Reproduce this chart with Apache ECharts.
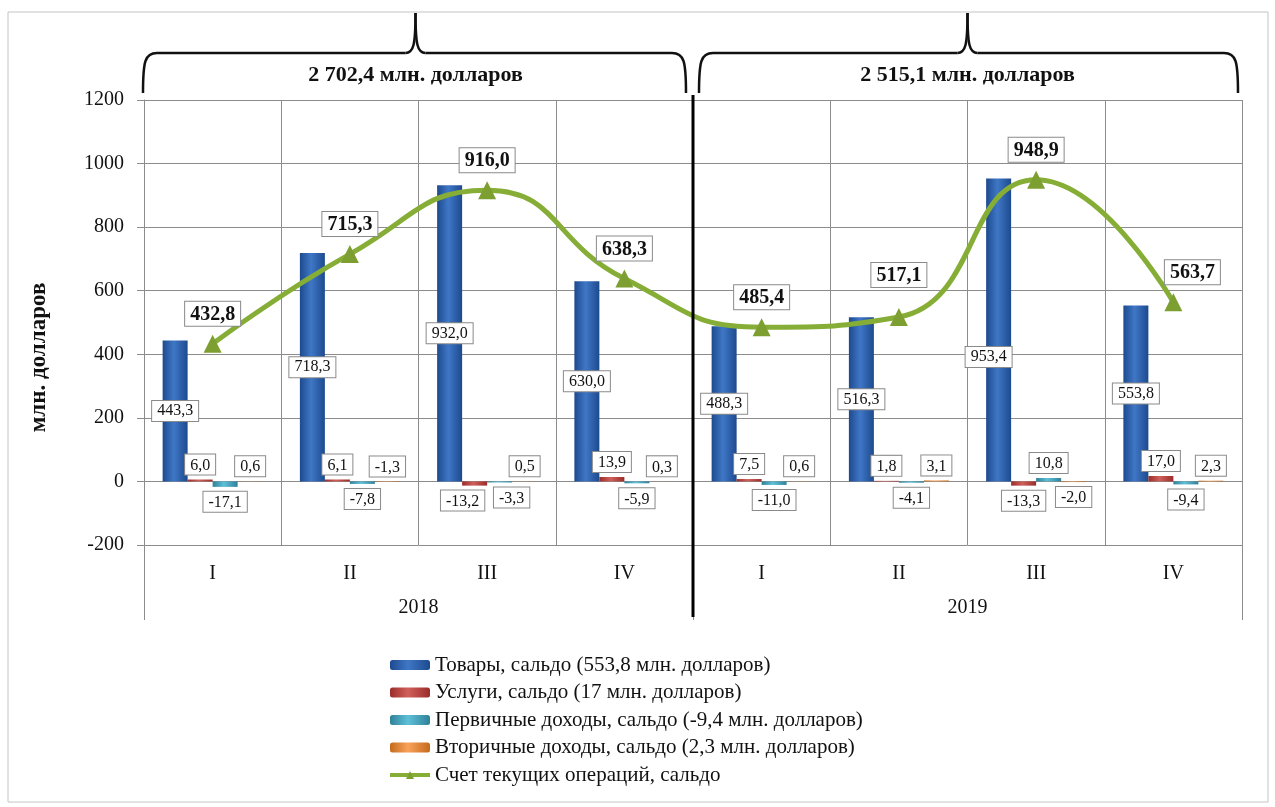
<!DOCTYPE html>
<html>
<head>
<meta charset="utf-8">
<script src="https://cdn.jsdelivr.net/npm/echarts@6/dist/echarts.min.js"></script>
<style>
  html, body { margin: 0; padding: 0; background: #fff; }
  #chart { width: 1275px; height: 807px; }
</style>
</head>
<body>
<div id="chart"></div>
<script>
'use strict';

// данные по кварталам 2018–2019
const quarters = ['I', 'II', 'III', 'IV', 'I', 'II', 'III', 'IV'];
const years = ['2018', '2019'];
const goods = [443.3, 718.3, 932.0, 630.0, 488.3, 516.3, 953.4, 553.8];
const services = [6.0, 6.1, -13.2, 13.9, 7.5, 1.8, -13.3, 17.0];
const primaryIncome = [-17.1, -7.8, -3.3, -5.9, -11.0, -4.1, 10.8, -9.4];
const secondaryIncome = [0.6, -1.3, 0.5, 0.3, 0.6, 3.1, -2.0, 2.3];
const currentAccount = [432.8, 715.3, 916.0, 638.3, 485.4, 517.1, 948.9, 563.7];
const yearTotals = ['2 702,4 млн. долларов', '2 515,1 млн. долларов'];
const seriesNames = [
  'Товары, сальдо (553,8 млн. долларов)',
  'Услуги, сальдо (17 млн. долларов)',
  'Первичные доходы, сальдо (-9,4 млн. долларов)',
  'Вторичные доходы, сальдо (2,3 млн. долларов)',
  'Счет текущих операций, сальдо'
];

const SERIF = '"Liberation Serif", "DejaVu Serif", serif';
const fmt = (v) => Number(v).toFixed(1).replace('.', ',');

function grad(dark, light) {
  return new echarts.graphic.LinearGradient(0, 0, 1, 0, [
    { offset: 0, color: dark },
    { offset: 0.45, color: light },
    { offset: 1, color: dark }
  ]);
}

const boxLabel = {
  show: true,
  fontFamily: SERIF,
  fontSize: 16,
  color: '#111',
  backgroundColor: '#fff',
  borderColor: '#8a8a8a',
  borderWidth: 1,
  padding: [3, 5, 1, 5],
  formatter: (p) => fmt(p.value)
};

// ручные поправки подписей, чтобы не налезали друг на друга
const labelTweaks = {
  goods: { 6: { offset: [-10, 27] } },
  services: { 2: { offset: [-12, 0] } },
  primary: { 2: { offset: [12, 0] } },
  secondary: { 1: { position: 'top' } },
  account: { 5: { offset: [0, -12] }, 7: { offset: [19, 0] } }
};

function withTweaks(values, key) {
  const tweaks = labelTweaks[key] || {};
  return values.map((v, i) => tweaks[i] ? { value: v, label: tweaks[i] } : v);
}

function barSeries(name, values, color, position, key) {
  return {
    name, type: 'bar',
    barWidth: 25, barGap: '0%',
    itemStyle: { color },
    label: Object.assign({}, boxLabel, { position, distance: 5 }),
    data: withTweaks(values, key)
  };
}

const chart = echarts.init(document.getElementById('chart'), null, { renderer: 'canvas' });

chart.setOption({
  animation: false,
  backgroundColor: '#fff',
  grid: { left: 144, right: 33, top: 100, bottom: 262 },
  legend: {
    orient: 'vertical', left: 383, top: 649,
    itemWidth: 40, itemHeight: 10, itemGap: 5.5,
    lineStyle: { width: 4 },
    textStyle: { fontFamily: SERIF, fontSize: 21, color: '#111', lineHeight: 22 },
    data: seriesNames
  },
  xAxis: [{
    type: 'category', data: quarters,
    axisLine: { show: false },
    axisTick: { show: true, length: 40, interval: 0, lineStyle: { color: '#8c8c8c' } },
    axisLabel: { margin: 19, fontFamily: SERIF, fontSize: 20, color: '#111' },
    splitLine: { show: true, interval: 0, lineStyle: { color: '#8c8c8c' } }
  }, {
    type: 'category', data: years, position: 'bottom',
    axisLine: { show: false },
    axisTick: { show: true, length: 75, interval: 0, lineStyle: { color: '#8c8c8c' } },
    axisLabel: { margin: 53, fontFamily: SERIF, fontSize: 20, color: '#111' }
  }],
  yAxis: {
    type: 'value', min: -200, max: 1200, interval: 200,
    name: 'млн. долларов', nameLocation: 'middle', nameGap: 93, nameRotate: 90,
    nameTextStyle: { fontFamily: SERIF, fontSize: 23, fontWeight: 'bold', color: '#111', padding: [0, 70, 0, 0] },
    axisLine: { show: true, lineStyle: { color: '#8c8c8c' } },
    axisTick: { show: true, length: 7, lineStyle: { color: '#8c8c8c' } },
    axisLabel: { margin: 20, fontFamily: SERIF, fontSize: 20, color: '#111', formatter: (v) => String(v) },
    splitLine: { lineStyle: { color: '#8c8c8c' } }
  },
  series: [
    barSeries(seriesNames[0], goods, grad('#1d4a8e', '#3f77c6'), 'inside', 'goods'),
    barSeries(seriesNames[1], services, grad('#9a2c29', '#d0605c'), 'outside', 'services'),
    barSeries(seriesNames[2], primaryIncome, grad('#2f8199', '#5ec0d8'), 'outside', 'primary'),
    barSeries(seriesNames[3], secondaryIncome, grad('#c46a1c', '#f9a25a'), 'outside', 'secondary'),
    {
      name: seriesNames[4], type: 'line', z: 5,
      smooth: 0.5,
      symbol: 'triangle', symbolSize: 18,
      lineStyle: { color: '#86ad36', width: 5 },
      itemStyle: { color: '#7d9f31' },
      label: Object.assign({}, boxLabel, {
        position: 'top', distance: 9,
        fontSize: 20, fontWeight: 'bold', padding: [3, 5, 1, 5]
      }),
      data: withTweaks(currentAccount, 'account')
    }
  ]
});

// фигурные скобки с итогами по годам и разделитель лет
function boundary(i) {
  const a = chart.convertToPixel({ xAxisIndex: 0 }, 0);
  const b = chart.convertToPixel({ xAxisIndex: 0 }, 1);
  return a - (b - a) / 2 + i * (b - a);
}

const braceStyle = { fill: 'none', stroke: '#111', lineWidth: 2.5 };

function brace(x0, x1, cx) {
  const yb = 93, yh = 53, yt = 13;
  const curve = (s) => ({ type: 'bezierCurve', silent: true, z: 100, shape: s, style: braceStyle });
  const line = (a, b) => ({ type: 'line', silent: true, z: 100, shape: { x1: a, y1: yh, x2: b, y2: yh }, style: braceStyle });
  return [
    curve({ x1: x0, y1: yb, cpx1: x0, cpy1: yh + 8, cpx2: x0 + 2, cpy2: yh, x2: x0 + 14, y2: yh }),
    line(x0 + 14, cx - 10),
    curve({ x1: cx - 10, y1: yh, cpx1: cx - 2, cpy1: yh, cpx2: cx, cpy2: yh - 8, x2: cx, y2: yt }),
    curve({ x1: cx + 10, y1: yh, cpx1: cx + 2, cpy1: yh, cpx2: cx, cpy2: yh - 8, x2: cx, y2: yt }),
    line(cx + 10, x1 - 14),
    curve({ x1: x1, y1: yb, cpx1: x1, cpy1: yh + 8, cpx2: x1 - 2, cpy2: yh, x2: x1 - 14, y2: yh })
  ];
}

const bMid = boundary(4);
const graphics = [
  { type: 'rect', silent: true, z: -10, shape: { x: 8, y: 12, width: 1260, height: 790 },
    style: { fill: 'none', stroke: '#c4c4c4', lineWidth: 1 } },
  { type: 'line', silent: true, z: 100, shape: { x1: bMid, y1: 95, x2: bMid, y2: 617 },
    style: { stroke: '#000', lineWidth: 3 } }
];
[[boundary(0) - 1, bMid - 7, boundary(2) - 3], [bMid + 6, boundary(8) - 4, boundary(6)]].forEach((b, i) => {
  brace(b[0], b[1], b[2]).forEach((g) => graphics.push(g));
  graphics.push({ type: 'text', silent: true, z: 100, x: b[2], y: 75,
    style: { text: yearTotals[i], font: 'bold 22px ' + SERIF, fill: '#111', align: 'center', verticalAlign: 'middle' } });
});
chart.setOption({ graphic: graphics });
</script>
</body>
</html>
